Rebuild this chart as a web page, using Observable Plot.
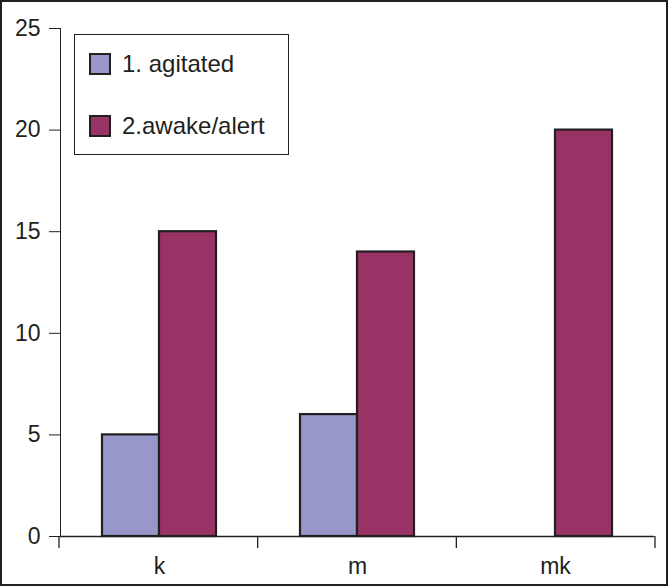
<!DOCTYPE html>
<html>
<head>
<meta charset="utf-8">
<script src="https://cdn.jsdelivr.net/npm/d3@7"></script>
<script src="https://cdn.jsdelivr.net/npm/@observablehq/plot@0.6"></script>
<style>
  html, body { margin: 0; padding: 0; background: #fff; }
  #wrap { position: relative; width: 668px; height: 586px; font-family: "Liberation Sans", Arial, sans-serif; color: #231f20; }
  #wrap svg { display: block; outline: 2px solid #231f20; outline-offset: -2px; }
  #legend { position: absolute; left: 74px; top: 34px; width: 215px; height: 121px; box-sizing: border-box; border: 1px solid #231f20; background: #fff; }
  .item { position: absolute; left: 14px; height: 22px; display: flex; align-items: center; font-size: 24px; white-space: nowrap; }
  .sw { width: 22px; height: 22px; box-sizing: border-box; border: 2px solid #231f20; margin-right: 11px; }
</style>
</head>
<body>
<div id="wrap"></div>
<script>
const categories = ["k", "m", "mk"];
const series = ["1. agitated", "2.awake/alert"];
const agitated = [5, 6, 0];
const awake = [15, 14, 20];
const colors = ["#9797ca", "#993366"];
const yTicks = [0, 5, 10, 15, 20, 25];

const rows = [];
categories.forEach((c, i) => {
  rows.push({cat: c, series: series[0], value: agitated[i]});
  rows.push({cat: c, series: series[1], value: awake[i]});
});

const chart = Plot.plot({
  width: 668,
  height: 586,
  marginLeft: 59,
  marginRight: 13,
  marginTop: 28,
  marginBottom: 50,
  style: {fontFamily: "Liberation Sans, Arial, sans-serif", fontSize: "23px", color: "#231f20", background: "#fff", overflow: "visible"},
  facet: {data: rows, x: "cat"},
  fx: {domain: categories, padding: 0, label: null, tickSize: 0, tickPadding: 21},
  x: {domain: series, paddingInner: 0, paddingOuter: 0.7275, axis: null},
  y: {domain: [0, 25], ticks: yTicks, tickSize: 11, tickPadding: 9, label: null, line: true},
  color: {domain: series, range: colors},
  marks: [
    Plot.barY(rows, {x: "series", y: "value", fill: "series", stroke: "#231f20", strokeWidth: 2.2, filter: d => d.value > 0}),
    Plot.ruleY([0], {stroke: "#231f20", strokeWidth: 1.3})
  ]
});

// category boundary ticks under the x axis, from Plot's fx and y scales
const fxs = chart.scale("fx");
const ys = chart.scale("y");
const band = d3.scaleBand().domain(fxs.domain).range(fxs.range).paddingInner(0).paddingOuter(0);
const y0 = ys.apply(0);
const bounds = fxs.domain.map(d => band(d)).concat([band(fxs.domain[fxs.domain.length - 1]) + band.bandwidth()]);
const g = d3.select(chart).append("g").attr("stroke", "#231f20").attr("stroke-width", 1.3);
bounds.forEach(b => {
  g.append("line").attr("x1", b).attr("x2", b).attr("y1", y0).attr("y2", y0 + 12);
});

const wrap = document.getElementById("wrap");
wrap.appendChild(chart);

const legend = d3.select(wrap).append("div").attr("id", "legend");
series.forEach((s, i) => {
  const it = legend.append("div").attr("class", "item").style("top", (i === 0 ? 18 : 80) + "px");
  it.append("div").attr("class", "sw").style("background", colors[i]);
  it.append("span").text(s);
});
</script>
</body>
</html>
